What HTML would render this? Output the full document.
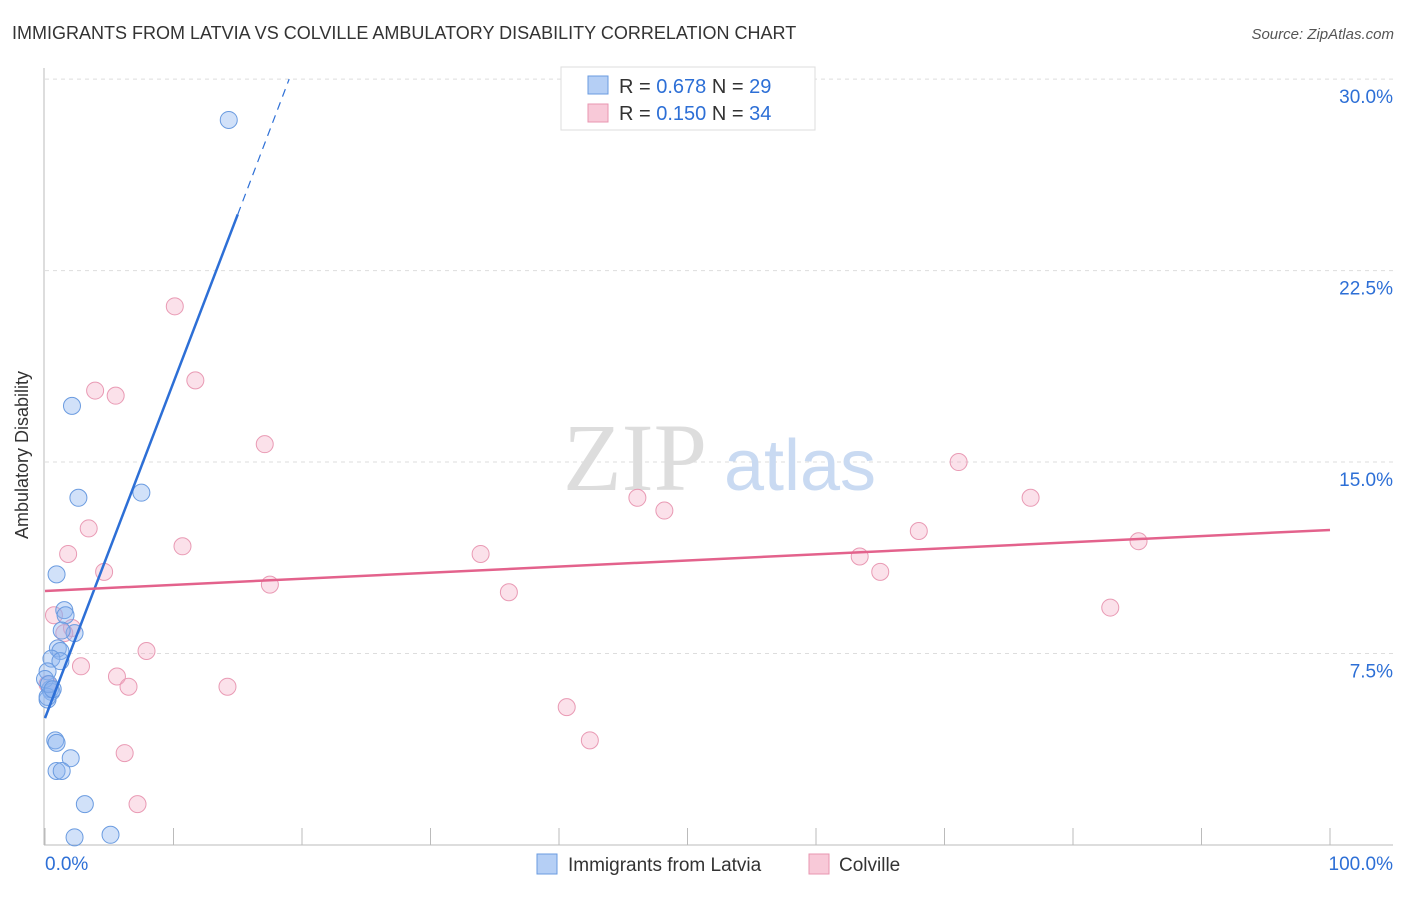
<!DOCTYPE html>
<html><head><meta charset="utf-8"><style>
body{margin:0;background:#fff;font-family:"Liberation Sans",sans-serif;}
svg text{font-family:"Liberation Sans",sans-serif;}
</style></head><body>
<svg width="1406" height="892">
<text x="12" y="39" font-size="18" fill="#333">IMMIGRANTS FROM LATVIA VS COLVILLE AMBULATORY DISABILITY CORRELATION CHART</text>
<text x="1394" y="39" font-size="15" fill="#555" text-anchor="end" font-style="italic">Source: ZipAtlas.com</text>
<g id="grid"></g>
<text x="635" y="490" font-size="96" fill="#ddd" text-anchor="middle" font-family="Liberation Serif" style="font-family:'Liberation Serif',serif">ZIP</text>
<text x="800" y="490" font-size="72" fill="#c9daf2" text-anchor="middle">atlas</text>
<g id="pts"></g><g id="lines"></g>
<text x="28" y="455" font-size="18" fill="#333" text-anchor="middle" transform="rotate(-90 28 455)">Ambulatory Disability</text>
<g>
<rect x="561" y="67" width="254" height="63" fill="#fff" stroke="#ddd"/>
<rect x="588" y="76" width="20" height="18" fill="#b5cff5" stroke="#6a9be0"/>
<rect x="588" y="104" width="20" height="18" fill="#f8c9d8" stroke="#e896b0"/>
<text x="619" y="93" font-size="20" fill="#333">R = <tspan fill="#2d6fd6">0.678</tspan>   N = <tspan fill="#2d6fd6">29</tspan></text>
<text x="619" y="120" font-size="20" fill="#333">R = <tspan fill="#2d6fd6">0.150</tspan>   N = <tspan fill="#2d6fd6">34</tspan></text>
</g>
<g>
<rect x="537" y="854" width="20" height="20" fill="#b5cff5" stroke="#6a9be0"/>
<text x="568" y="871" font-size="19" fill="#333">Immigrants from Latvia</text>
<rect x="809" y="854" width="20" height="20" fill="#f8c9d8" stroke="#e896b0"/>
<text x="839" y="871" font-size="19" fill="#333">Colville</text>
</g>
<text x="45" y="870" font-size="19" fill="#2d6fd6">0.0%</text>
<text x="1393" y="870" font-size="19" fill="#2d6fd6" text-anchor="end">100.0%</text>
</svg>
<script>
const yTicks=[7.5,15,22.5,30];
const yTickLabels=["7.5%","15.0%","22.5%","30.0%"];
const blueX=[14.3,2.1,2.6,7.5,0.9,1.5,1.6,2.3,1.3,1.0,1.2,0.5,1.2,0.2,0.4,0.5,0.2,0.2,0.8,0.9,2.0,0.9,1.3,3.1,5.1,2.3,0.0,0.3,0.6];
const blueY=[28.4,17.2,13.6,13.8,10.6,9.2,9.0,8.3,8.4,7.7,7.6,7.3,7.2,6.8,6.1,6.0,5.7,5.8,4.1,4.0,3.4,2.9,2.9,1.6,0.4,0.3,6.5,6.3,6.1];
const pinkX=[10.1,3.9,5.5,11.7,17.1,71.1,46.1,48.2,76.7,3.4,1.8,10.7,33.9,68.0,85.1,63.4,65.0,4.6,17.5,36.1,0.7,82.9,2.1,1.5,7.9,2.8,5.6,6.5,14.2,40.6,42.4,6.2,7.2,0.2];
const pinkY=[21.1,17.8,17.6,18.2,15.7,15.0,13.6,13.1,13.6,12.4,11.4,11.7,11.4,12.3,11.9,11.3,10.7,10.7,10.2,9.9,9.0,9.3,8.5,8.3,7.6,7.0,6.6,6.2,6.2,5.4,4.1,3.6,1.6,6.3];
const blueTrend=[0,4.97,15.0,24.7,19.0,30.0];
const pinkTrend=[0,9.95,100,12.34];
const NS="http://www.w3.org/2000/svg";
const X=v=>45+v*12.85, Y=v=>845-v*25.53;
function mk(t,a,p){const e=document.createElementNS(NS,t);for(const k in a)e.setAttribute(k,a[k]);document.getElementById(p).appendChild(e);return e;}
mk('line',{x1:44,y1:68,x2:44,y2:845,stroke:'#bbb'},'grid');
mk('line',{x1:44,y1:845,x2:1393,y2:845,stroke:'#bbb'},'grid');
for(let i=0;i<=10;i++){const l=mk('line',{x1:X(i*10),y1:828,x2:X(i*10),y2:845,stroke:'#bbb'},'grid');

}
yTicks.forEach((t,i)=>{const g=mk('line',{x1:45,y1:Y(t),x2:1393,y2:Y(t),stroke:'#ddd','stroke-dasharray':'4,4'},'grid');


const tx=mk('text',{x:1393,y:Y(t)+24,'font-size':19,fill:'#2d6fd6','text-anchor':'end'},'grid');tx.textContent=yTickLabels[i];

});
pinkX.forEach((x,i)=>{const c=mk('circle',{cx:X(x),cy:Y(pinkY[i]),r:8.5,fill:'rgba(244,170,195,0.35)',stroke:'#e99ab4'},'pts');

});
blueX.forEach((x,i)=>{const c=mk('circle',{cx:X(x),cy:Y(blueY[i]),r:8.5,fill:'rgba(140,180,240,0.4)',stroke:'#6a9be0'},'pts');

});
let l=mk('line',{x1:X(blueTrend[0]),y1:Y(blueTrend[1]),x2:X(blueTrend[2]),y2:Y(blueTrend[3]),stroke:'#2d6fd6','stroke-width':2.5},'lines');


l=mk('line',{x1:X(blueTrend[2]),y1:Y(blueTrend[3]),x2:X(blueTrend[4]),y2:Y(blueTrend[5]),stroke:'#2d6fd6','stroke-width':1.2,'stroke-dasharray':'8,6'},'lines');


l=mk('line',{x1:X(pinkTrend[0]),y1:Y(pinkTrend[1]),x2:X(pinkTrend[2]),y2:Y(pinkTrend[3]),stroke:'#e3628c','stroke-width':2.5},'lines');


</script>
</body></html>
